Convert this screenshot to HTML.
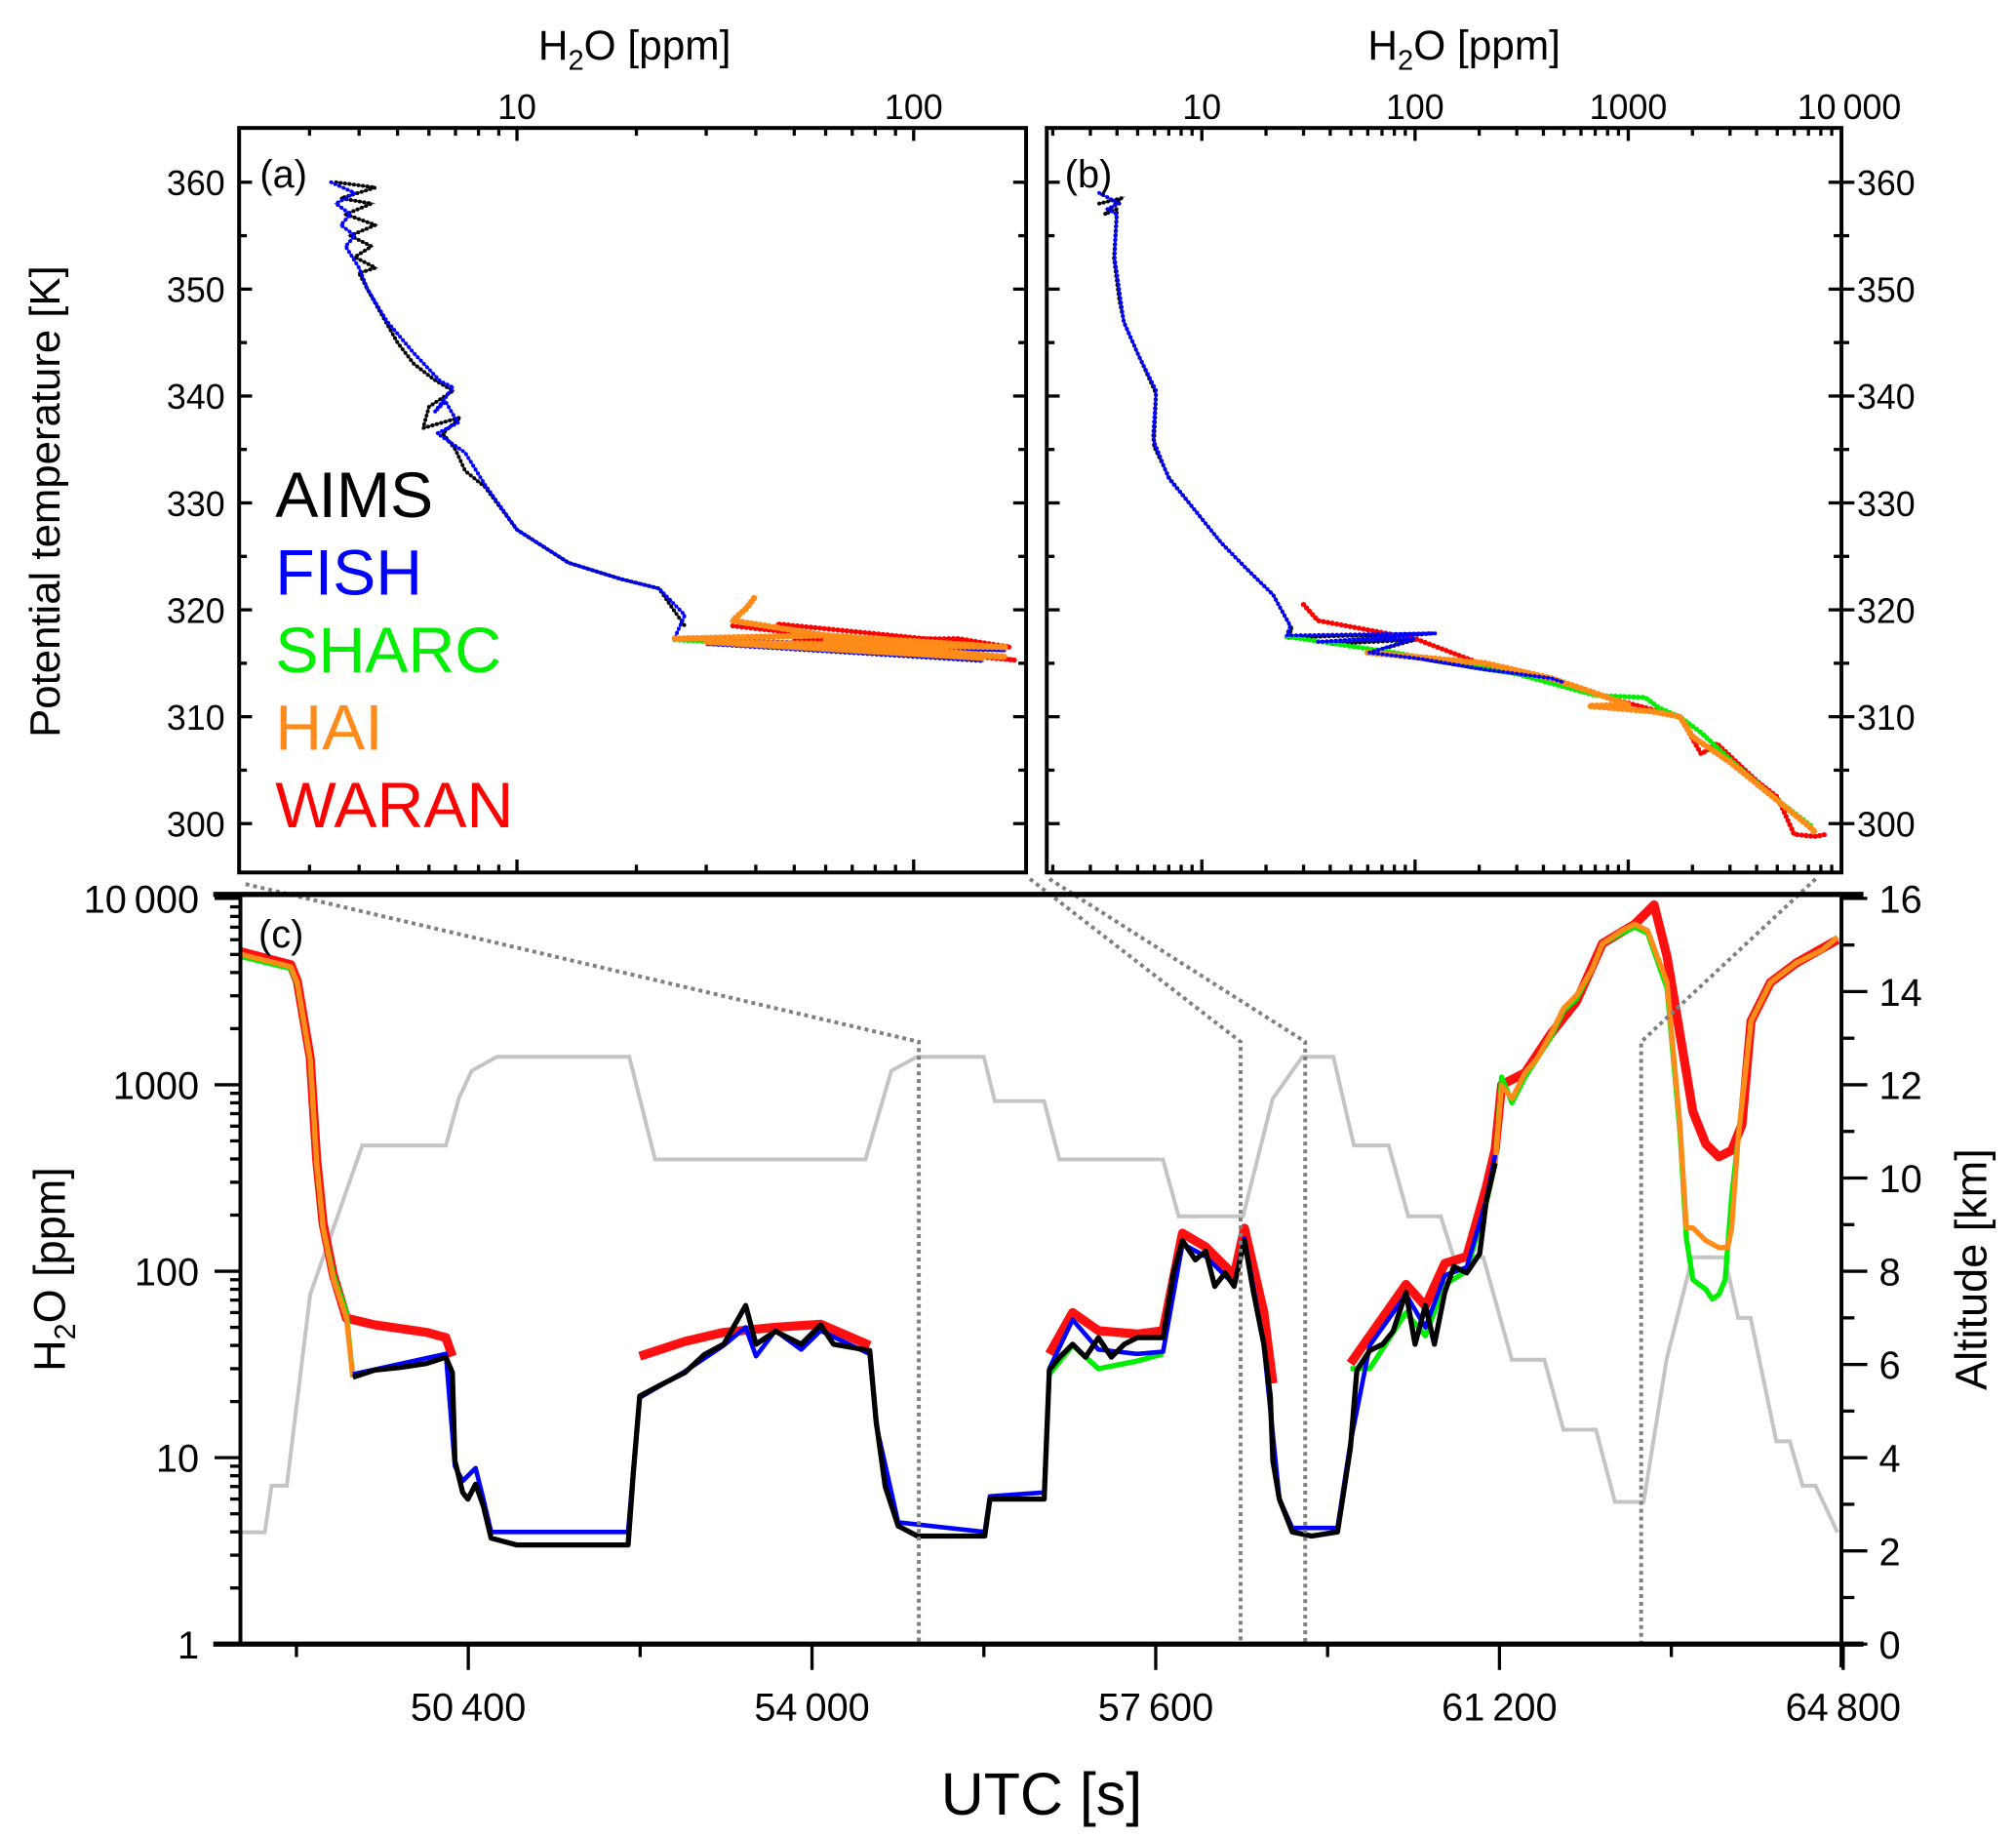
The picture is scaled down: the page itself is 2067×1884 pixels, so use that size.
<!DOCTYPE html>
<html><head><meta charset="utf-8">
<style>
html,body{margin:0;padding:0;background:#fff;}
svg{display:block;font-family:"Liberation Sans",Arial,sans-serif;}
</style></head>
<body>
<svg id="chart" width="2067" height="1884" viewBox="0 0 1560 1422" xmlns="http://www.w3.org/2000/svg">
<defs>
<clipPath id="clipA"><rect x="185" y="99" width="609" height="576"/></clipPath>
<clipPath id="clipB"><rect x="810" y="99" width="615" height="576"/></clipPath>
<clipPath id="clipC"><rect x="186" y="692" width="1239" height="580"/></clipPath>
</defs>
<g id="gc"></g>
<g id="ga"></g>
<g id="gb"></g>
<g id="gx"></g>
</svg>
<script>
// ---- Panel (c) time series data: UTC [s] and H2O [ppm] ----
const altT = [48000,48270,48340,48500,48744,49290,50165,50300,50435,50700,52086,52357,54560,54830,55100,55800,55915,56430,56590,57675,57840,58515,58825,59135,59460,59675,60040,60245,60585,60720,61030,61330,61670,61870,62210,62410,62710,62950,63220,63560,63700,63830,64100,64240,64375,64510,64740];
const altKm = [2.4,2.4,3.4,3.4,7.5,10.7,10.7,11.7,12.3,12.6,12.6,10.4,10.4,12.3,12.6,12.6,11.65,11.65,10.4,10.4,9.18,9.18,11.7,12.6,12.6,10.7,10.7,9.18,9.18,8.3,8.3,6.1,6.1,4.6,4.6,3.05,3.05,6.1,8.3,8.3,7.0,7.0,4.35,4.35,3.4,3.4,2.4];

const aimsT = [49191,49421,49692,49962,50165,50233,50260,50341,50395,50477,50558,50639,50910,51451,52074,52128,52196,52399,52669,52872,53075,53305,53413,53617,53887,54090,54225,54604,54672,54767,54902,55105,55809,55863,56053,56432,56486,56594,56729,56865,57000,57135,57271,57406,57677,57785,57880,58015,58123,58218,58326,58421,58529,58624,58732,58800,58827,58895,59030,59233,59504,59639,59707,59842,59978,60086,60221,60316,60424,60519,60627,60722,60857,60993,61060,61155];
const aimsV = [27,29.5,30.5,32,34.6,28.6,9.6,6.5,6.0,7.2,5.5,3.7,3.4,3.4,3.4,8.2,21.4,24.3,28.6,35.7,40.6,65.5,40.6,47.6,40.6,51.6,40.6,37.5,15.6,7.0,4.3,3.8,3.8,6.0,6.0,6.0,29.5,34.6,40.6,34.6,44,34.6,40.6,44,44,98,146,115,128,83,98,83,146,77,40.6,21.4,9.6,6.0,4.0,3.8,4.0,11.3,29.5,37.5,40.6,47.6,77,40.6,65.5,40.6,77,106,98,124,235,379];

const fishT = [49191,50165,50260,50341,50477,50558,50639,52074,52128,52196,52669,53075,53305,53413,53617,53887,54090,54604,54672,54902,55809,55863,56432,56486,56729,57000,57406,57677,57880,58123,58421,58529,58732,58895,59030,59504,59639,59842,60221,60424,60627,60857,61060,61155];
const fishV = [28,36,9,7.5,8.8,6,4.0,4.0,8.5,21,29,40,50,35,48,38,48,36,15,4.5,4.0,6.2,6.5,30,55,38,36,37,140,120,85,150,40,6,4.2,4.2,12,40,75,50,95,105,240,420];

const sharcT = [48000,48541,48609,48744,48812,48880,48988,49123,49191,null,56486,56729,57000,57406,57677,null,59639,59842,60221,60424,60627,60857,61060,61155,61223,61331,61467,61602,61737,61872,62008,62170,62278,62481,62617,62752,62955,63090,63158,63226,63361,63429,63497,63564,63632,63700,63835,64038,64309,64579,64741];
const sharcV = [4900,4200,3500,1360,379,171,95,60,27,null,28,40,30,33,36,null,30,30,60,45,85,100,230,379,1100,800,1100,1400,1800,2500,2900,4155,5720,6500,7000,6500,3300,560,150,90,80,71,75,90,250,522,2195,3540,4500,5280,6195];

const haiT = [48000,48541,48609,48744,48812,48880,48988,49123,49191,null,61155,61223,61331,61467,61602,61737,61872,62008,62170,62278,62481,62617,62752,62955,63090,63158,63226,63361,63497,63591,63632,63700,63835,64038,64309,64579,64741];
const haiV = [5035,4300,3540,1360,379,171,90,56,27,null,379,989,842,1159,1400,1871,2575,3020,4155,5720,6710,7270,6710,3540,612,171,171,146,134,134,170,522,2195,3540,4500,5280,6195];

const waranT = [48000,48541,48609,48744,48812,48880,48988,49123,49421,49962,50165,50233,null,52196,52669,53075,53617,54090,54604,null,56486,56729,57000,57406,57677,57880,58123,58421,58529,58732,58827,null,59639,59842,60221,60424,60627,60857,61060,61155,61223,61467,61737,62008,62278,62617,62820,62955,63090,63226,63361,63497,63632,63740,63835,64038,64309,64741];
const waranV = [5200,4400,3600,1400,400,180,95,56,51.6,47,44,35,null,35,42,47,50,52,40,null,36,60,48,46,48,160,135,95,170,60,25,null,32,45,85,65,110,120,280,450,1000,1159,1871,2800,5720,7270,9225,4875,1871,718,482,411,445,612,2195,3540,4500,6000];

// ---- Panel (a) profiles: H2O [ppm] vs potential temperature [K] ----
const aAimsV = [3.5,4.4,3.6,4.3,3.7,4.4,3.8,4.3,3.9,4.4,4.0,4.2,4.5,5.0,5.5,6.2,6.9,6.0,5.8,7.2,6.5,7.0,7.4,8.3,10,13.5,18.2,22.8,24.6,26.5];
const aAimsT = [360,359.5,358.5,358,357,356,355,354,353,352,351.5,350,348,345,343,341.5,340.5,339,337,338,336.5,335,333,331.5,327.5,324.4,322.9,322,320.2,318.5];
const aFishV = [3.4,3.9,3.5,3.8,3.6,3.9,3.7,4.0,4.2,4.7,5.5,6.4,6.9,6.2,6.6,7.1,6.3,7.4,8.3,10,13.5,18.2,22.8,26.5,25,170,30,150];
const aFishT = [360,359,358,357,356,355,354,352,350,347,344,341.4,340.8,338.5,339.5,337.5,336.5,334.7,331.7,327.5,324.4,322.9,322,319.5,317.4,316.2,316.8,315.2];
const aHaiV = [25,60,170,30,150,40,100,170,60,120,35,38,40];
const aHaiT = [317.3,317.6,316.5,317.0,315.5,316.8,316.0,315.6,317.1,315.8,319,320.2,321.3];
const aWaranV = [35,60,180,50,130,175,45];
const aWaranT = [318.5,317.5,315.3,317.2,317.3,316.5,318.7];
const aSharcV = [25,80,150,40,110];
const aSharcT = [317.2,316.3,315.6,316.7,315.8];

// ---- Panel (b) profiles ----
const bAimsV = [3.3,4.2,3.5,4.0,3.87,4.1,4.33,5.0,5.56,6.1,5.96,7.05,9.3,12.3,16.3,21.6,24.8,26.5,25,120,40,100,61.4,107,214,433];
const bAimsT = [358,358.5,357,357.5,352.9,349,346.8,344,342,340.2,335.3,332.3,329.3,326.3,323.8,321.4,319.2,318.2,317.4,317.8,316.8,317.2,316,315.4,314.4,313.6];
const bFishV = [3.3,4.1,3.6,4.0,3.9,4.3,5.0,5.6,6.1,5.9,7.0,9.3,12.3,16.3,21.6,26,25,125,35,100,61,107,214,433,500];
const bFishT = [359,358,357.5,357,353,347,344,342,340.5,336,332.3,329.3,326.3,323.8,321.4,318.5,317.6,317.8,317.0,317.3,316,315.4,314.4,313.6,313.2];
const bHaiV = [60,214,433,657,1000,657,1300,1746,2010,3030,4640,7090,7610];
const bHaiT = [316,315,313.6,312.4,311.1,311,310.5,310,308.1,305.7,302.7,299.7,299.1];
const bSharcV = [25,80,300,700,1200,1400,1746,2200,3200,4800,7200];
const bSharcT = [317.5,316,314,312,311.8,310.8,310,308.5,305.5,302.5,299.8];
const bWaranV = [30,35,100,214,1746,2200,2600,4000,5000,6000,7500,8500];
const bWaranT = [320.5,319,317.3,314.8,310,306.5,307.5,304,302.5,299,298.8,299];

// ---- tick labels ----
const utcTicks = [50400,54000,57600,61200,64800];
const utcTickLabels = ["50\u2009400","54\u2009000","57\u2009600","61\u2009200","64\u2009800"];
const ppmTicksC = [1,10,100,1000,10000];
const ppmTickLabelsC = ["1","10","100","1000","10\u2009000"];
const altTicks = [0,2,4,6,8,10,12,14,16];
const thetaTicks = [300,310,320,330,340,350,360];
const ppmTicksA = [10,100];
const ppmTicksB = [10,100,1000,10000];
const ppmTickLabelsB = ["10","100","1000","10\u2009000"];

// ---- scales (displayed units) ----
const L = Math.log10;
const xa = v => 400 + 307*L(v/10);
const xb = v => 930 + 165*L(v/10);
const yth = t => 141 + (360-t)*8.27;
const xc = t => 185 + (t-48000)*266/3600;
const yc = v => 1272 - 144.25*L(v);
const yalt = k => 1272 - 36.06*k;

const NS="http://www.w3.org/2000/svg";
function mk(tag, parent, attrs){const e=document.createElementNS(NS,tag);for(const k in attrs)e.setAttribute(k,attrs[k]);parent.appendChild(e);return e;}
function pathD(xs, ys, fx, fy){let d="",pen=false;for(let i=0;i<xs.length;i++){if(xs[i]===null){pen=false;continue;}d+=(pen?"L":"M")+fx(xs[i]).toFixed(1)+","+fy(ys[i]).toFixed(1);pen=true;}return d;}

const gc=document.getElementById('gc'), ga=document.getElementById('ga'), gb=document.getElementById('gb'), gx=document.getElementById('gx');

// panel c series
const cg = mk('g', gc, {'clip-path':'url(#clipC)'});
let p;
p = mk('path', cg, {d:pathD(altT,altKm,xc,yalt), fill:'none', stroke:'#c4c4c4', 'stroke-width':3});


p = mk('path', cg, {d:pathD(waranT,waranV,xc,yc), fill:'none', stroke:'#ff1010', 'stroke-width':7, 'stroke-linejoin':'round'});


p = mk('path', cg, {d:pathD(sharcT,sharcV,xc,yc), fill:'none', stroke:'#00ee00', 'stroke-width':4, 'stroke-linejoin':'round'});


p = mk('path', cg, {d:pathD(haiT,haiV,xc,yc), fill:'none', stroke:'#ff8c1a', 'stroke-width':4, 'stroke-linejoin':'round'});


p = mk('path', cg, {d:pathD(fishT,fishV,xc,yc), fill:'none', stroke:'#0000ff', 'stroke-width':3.5, 'stroke-linejoin':'round'});


p = mk('path', cg, {d:pathD(aimsT,aimsV,xc,yc), fill:'none', stroke:'#000', 'stroke-width':4, 'stroke-linejoin':'round'});



// zoom connector dotted lines
const conn = [[190,684,711,806,1272],[797,680,960,806,1272],[812,680,1010,806,1272],[1405,680,1270,806,1272]];
conn.forEach(c=>{
  const q = mk('polyline', gc, {points:`${c[0]},${c[1]} ${c[2]},${c[3]} ${c[2]},${c[4]}`, fill:'none', stroke:'#808080', 'stroke-width':3, 'stroke-dasharray':'3 3'});
  
  
});

// profile drawing
function prof(g, xs, ys, fx, color, w, name){
  const q = mk('path', g, {d:pathD(xs,ys,fx,yth), fill:'none', stroke:color, 'stroke-width':w, 'stroke-linecap':'round', 'stroke-dasharray':'0 3.5'});
  
  
  const q2 = mk('path', g, {d:pathD(xs,ys,fx,yth), fill:'none', stroke:color, 'stroke-width':w*0.6, opacity:0.7});
  
  
}
const ag = mk('g', ga, {'clip-path':'url(#clipA)'});
prof(ag,aAimsV,aAimsT,xa,'#000',3,'aims-profile-a');
prof(ag,aFishV,aFishT,xa,'#0000ff',3,'fish-profile-a');
prof(ag,aSharcV,aSharcT,xa,'#00ee00',4,'sharc-profile-a');
prof(ag,aWaranV,aWaranT,xa,'#ff0000',4,'waran-profile-a');
prof(ag,aHaiV,aHaiT,xa,'#ff8c1a',5,'hai-profile-a');
const bg = mk('g', gb, {'clip-path':'url(#clipB)'});
prof(bg,bAimsV,bAimsT,xb,'#000',3,'aims-profile-b');
prof(bg,bWaranV,bWaranT,xb,'#ff0000',4,'waran-profile-b');
prof(bg,bSharcV,bSharcT,xb,'#00ee00',4,'sharc-profile-b');
prof(bg,bHaiV,bHaiT,xb,'#ff8c1a',5,'hai-profile-b');
prof(bg,bFishV,bFishT,xb,'#0000ff',3,'fish-profile-b');

// ---- axes ----
function line(x1,y1,x2,y2,w,name){const e=mk('line',gx,{x1,y1,x2,y2,stroke:'#000','stroke-width':w});return e;}
function text(x,y,s,size,anchor,name,extra){const e=mk('text',gx,Object.assign({x,y,'font-size':size,'text-anchor':anchor,fill:'#000'},extra||{}));e.textContent=s;return e;}

// panel frames
[[185,99,794,675],[810,99,1425,675]].forEach((r,i)=>{
  const e=mk('rect',gx,{x:r[0],y:r[1],width:r[2]-r[0],height:r[3]-r[1],fill:'none',stroke:'#000','stroke-width':3});
  
  
});
for(let t=295;t<=365;t+=5){
  const y=yth(t); const maj=(t%10===0);
  const len = maj?10:6;
  if(y<100||y>674) continue;
  line(185,y,185+len,y,2.5,'theta-tick-a');
  line(794,y,794-len,y,2.5,'theta-tick-a-right');
  line(810,y,810+len,y,2.5,'theta-tick-b');
  line(1425,y,1425-len,y,2.5,'theta-tick-b-right');
  line(1425,y,1425+len,y,2.5,'theta-tick-b-out');
}
thetaTicks.forEach(t=>{
  text(174,yth(t)+10,String(t),27,'end','theta-label-a');
  text(1437,yth(t)+10,String(t),27,'start','theta-label-b');
});
for(let d=1;d<=100;d*=10){for(let m=1;m<10;m++){const v=d*m;const x=xa(v);if(x<186||x>793)continue;const len=(m===1)?10:6;
  line(x,99,x,99+len,2.5,'ppm-tick-a-top');line(x,675,x,675-len,2.5,'ppm-tick-a-bottom');}}
ppmTicksA.forEach(v=>text(xa(v),92,String(v),27,'middle','ppm-label-a'));
for(let d=1;d<=1000;d*=10){for(let m=1;m<10;m++){const v=d*m;const x=xb(v);if(x<811||x>1424)continue;const len=(m===1)?10:6;
  line(x,99,x,99+len,2.5,'ppm-tick-b-top');line(x,675,x,675-len,2.5,'ppm-tick-b-bottom');}}
ppmTicksB.forEach((v,i)=>text(xb(v)+(i===3?6:0),92,ppmTickLabelsB[i],27,'middle','ppm-label-b'));
let tt=text(491,46,'H',32,'middle','ppm-title-a');tt.innerHTML='H<tspan font-size="22" dy="8">2</tspan><tspan dy="-8">O [ppm]</tspan>';
tt=text(1133,46,'H',32,'middle','ppm-title-b');tt.innerHTML='H<tspan font-size="22" dy="8">2</tspan><tspan dy="-8">O [ppm]</tspan>';
text(46,388,'Potential  temperature [K]',33,'middle','theta-axis-title',{transform:'rotate(-90 46 388)'});
text(201,145,'(a)',30,'start','panel-a-label');
text(824,145,'(b)',30,'start','panel-b-label');
const legNames=['AIMS','FISH','SHARC','HAI','WARAN'];
const legCols=['#000','#0000ff','#00ee00','#ff8c1a','#ff0000'];
legNames.forEach((n,i)=>{const e=text(213,400+60*i,n,50,'start','legend-entry',{fill:legCols[i]});});

// panel c axes
line(165,692,1442,692,4,'panel-c-top-border');
line(165,1272,1442,1272,4,'panel-c-bottom-axis');
line(186,692,186,1272,3,'panel-c-left-axis');
line(1425,692,1425,1290,3,'panel-c-right-axis');
for(let d=1;d<=1000;d*=10){for(let m=1;m<10;m++){const v=d*m;const y=yc(v);const len=(m===1)?20:8;line(186-len,y,186,y,2.5,'ppm-tick-c');}}
line(166,yc(10000),186,yc(10000),2.5,'ppm-tick-c');
ppmTicksC.forEach((v,i)=>text(154,yc(v)+11,ppmTickLabelsC[i],30,'end','ppm-label-c'));
for(let t=48600;t<=64800;t+=1800){const x=xc(t);const maj=((t-50400)%3600===0);line(x,1272,x,1272+(maj?20:10),2.5,'utc-tick');}
utcTicks.forEach((t,i)=>text(xc(t),1331,utcTickLabels[i],30,'middle','utc-label'));
for(let k=0;k<=16;k++){const y=yalt(k);line(1425,y,1425+((k%2===0)?20:10),y,2.5,'altitude-tick');}
altTicks.forEach(k=>text(1454,yalt(k)+11,String(k),30,'start','altitude-label'));
text(806,1404,'UTC [s]',46,'middle','utc-axis-title');
tt=text(50,982,'H',34,'middle','ppm-title-c',{transform:'rotate(-90 50 982)'});tt.innerHTML='H<tspan font-size="23" dy="8">2</tspan><tspan dy="-8">O [ppm]</tspan>';
text(1537,982,'Altitude [km]',34,'middle','altitude-axis-title',{transform:'rotate(-90 1537 982)'});
text(200,733,'(c)',30,'start','panel-c-label');
</script>
</body></html>
